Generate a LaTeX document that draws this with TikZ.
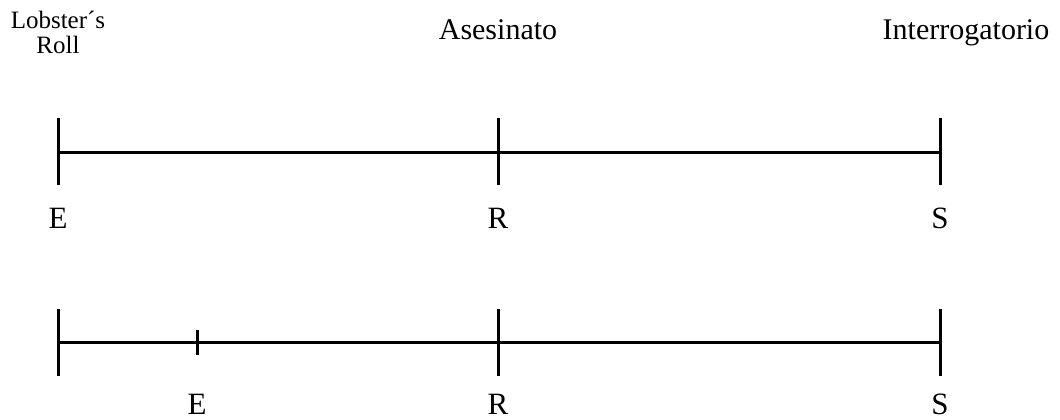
\documentclass[tikz,border=0pt]{standalone}
\usepackage{fontspec}
\setmainfont{Liberation Serif}
\usetikzlibrary{positioning}

\begin{document}
\begin{tikzpicture}[x=1pt,y=-1pt,
		timeline/.style={line width=3pt},
		tickmark/.style={line width=3pt},
		letter/.style={anchor=base,font=\fontsize{31}{33}\selectfont},
		event/.style={anchor=base,font=\fontsize{30}{32}\selectfont}]
	
	\useasboundingbox (0,0) rectangle (1060,420);
	
	%--- event titles ---
	\node[font=\fontsize{25}{25}\selectfont,align=center] (lobster) at (58,32) {Lobster´s\\Roll};
	\node[event] (asesinato) at (498,40) {Asesinato};
	\node[event] (interrogatorio) at (966,40) {Interrogatorio};
	
	%--- first line: E at the far left ---
	\coordinate (E1) at (58,152);
	\coordinate (R1) at (498,152);
	\coordinate (S1) at (940,152);
	\draw[timeline] (E1) -- (R1) -- (S1);
	\foreach \p in {E1,R1,S1}
		\draw[tickmark] (\p) ++(0,-34) -- ++(0,67);
	\node[letter] (e1) at (58,228) {E};
	\node[letter] (r1) at (498,228) {R};
	\node[letter] (s1) at (940,228) {S};
	
	%--- second line: E between the start and R ---
	\coordinate (A2) at (58,342);
	\coordinate (E2) at (197,342);
	\coordinate (R2) at (498,342);
	\coordinate (S2) at (940,342);
	\draw[timeline] (A2) -- (E2) -- (R2) -- (S2);
	\foreach \p in {A2,R2,S2}
		\draw[tickmark] (\p) ++(0,-33) -- ++(0,67);
	\draw[tickmark] (E2) ++(0,-12) -- ++(0,25); % short tick for E
	\node[letter] (e2) at (197,414) {E};
	\node[letter] (r2) at (498,414) {R};
	\node[letter] (s2) at (940,414) {S};
	
\end{tikzpicture}
\end{document}
